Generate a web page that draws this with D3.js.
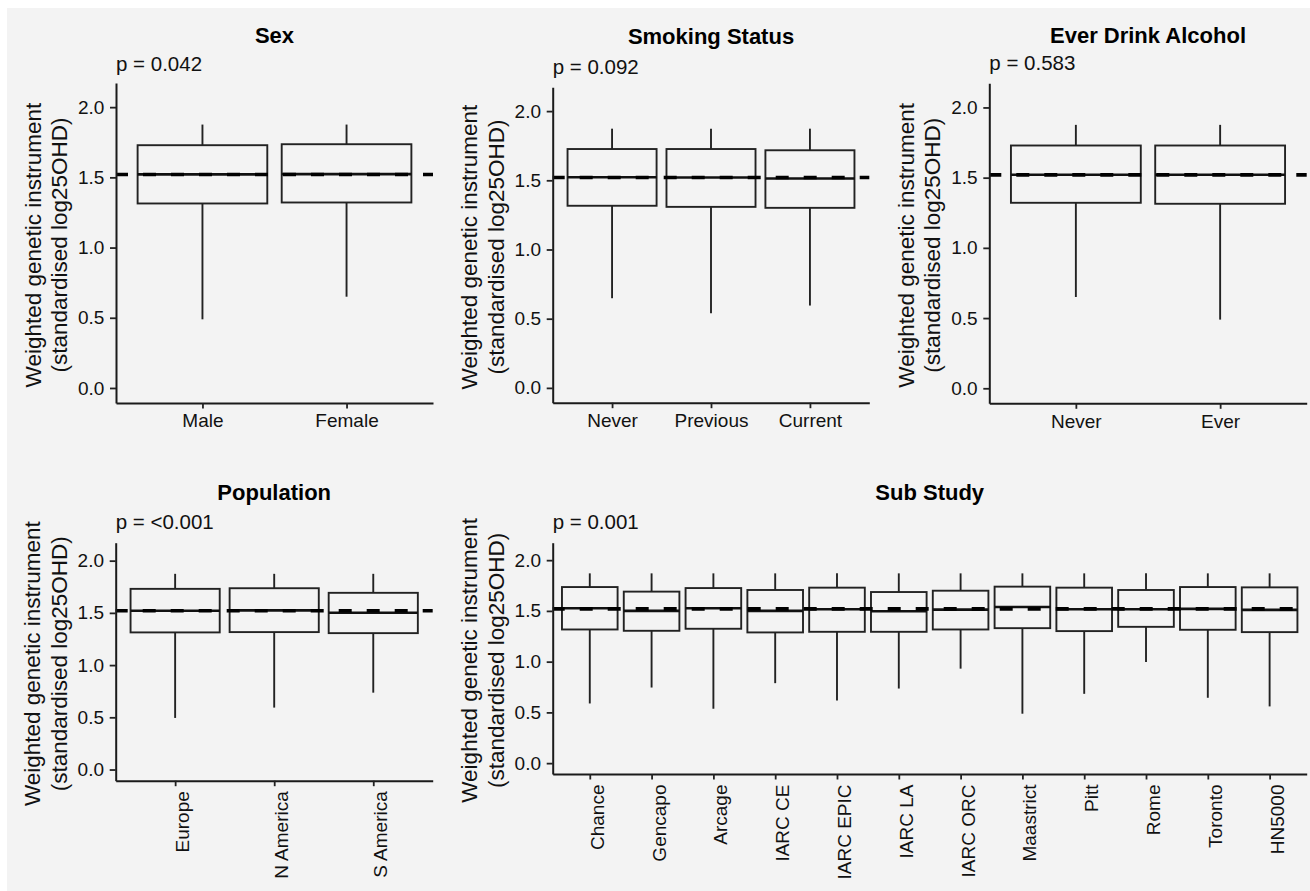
<!DOCTYPE html>
<html>
<head>
<meta charset="utf-8">
<script src="https://cdn.jsdelivr.net/npm/d3@7"></script>
<style>
  html, body { margin: 0; padding: 0; background: #fff; }
  svg { display: block; font-family: "Liberation Sans", Arial, Helvetica, sans-serif; }
</style>
</head>
<body>
<svg id="chart" width="1310" height="891"></svg>
<script>
// box stats per category: [whisker low, q1, median, q3, whisker high]
const sexCategories = ["Male", "Female"];
const sexBoxes = [[0.489, 1.314, 1.521, 1.729, 1.876], [0.65, 1.321, 1.523, 1.736, 1.876]];

const smokingCategories = ["Never", "Previous", "Current"];
const smokingBoxes = [[0.648, 1.316, 1.522, 1.726, 1.873], [0.54, 1.308, 1.52, 1.726, 1.873], [0.595, 1.301, 1.513, 1.717, 1.873]];

const alcoholCategories = ["Never", "Ever"];
const alcoholBoxes = [[0.65, 1.321, 1.521, 1.729, 1.876], [0.489, 1.314, 1.521, 1.729, 1.876]];

const populationCategories = ["Europe", "N America", "S America"];
const populationBoxes = [[0.494, 1.313, 1.52, 1.73, 1.874], [0.593, 1.316, 1.524, 1.736, 1.874], [0.736, 1.306, 1.501, 1.692, 1.874]];

const subStudyCategories = ["Chance", "Gencapo", "Arcage", "IARC CE", "IARC EPIC", "IARC LA", "IARC ORC", "Maastrict", "Pitt", "Rome", "Toronto", "HN5000"];
const subStudyBoxes = [
  [0.588, 1.317, 1.526, 1.735, 1.87],
  [0.745, 1.304, 1.50, 1.69, 1.87],
  [0.536, 1.324, 1.526, 1.725, 1.87],
  [0.788, 1.288, 1.50, 1.706, 1.87],
  [0.618, 1.294, 1.516, 1.729, 1.87],
  [0.735, 1.294, 1.497, 1.686, 1.87],
  [0.931, 1.317, 1.513, 1.699, 1.87],
  [0.487, 1.33, 1.539, 1.739, 1.87],
  [0.683, 1.301, 1.516, 1.729, 1.87],
  [0.997, 1.343, 1.516, 1.706, 1.87],
  [0.644, 1.314, 1.52, 1.735, 1.87],
  [0.559, 1.291, 1.51, 1.732, 1.87]
];

const panelTitles = ["Sex", "Smoking Status", "Ever Drink Alcohol", "Population", "Sub Study"];
const pLabels = ["p = 0.042", "p = 0.092", "p = 0.583", "p = <0.001", "p = 0.001"];
const overallMedian = 1.52;
const yTicks = [0, 0.5, 1.0, 1.5, 2.0];
const yDomain = [-0.107, 2.172];

const panels = [
  { cats: sexCategories, boxes: sexBoxes, x0: 116, x1: 433, y0: 83, y1: 403, titleY: 43.3, pY: 70.7 },
  { cats: smokingCategories, boxes: smokingBoxes, x0: 552.7, x1: 869.3, y0: 87.3, y1: 402.7, titleY: 44.3, pY: 74 },
  { cats: alcoholCategories, boxes: alcoholBoxes, x0: 989.3, x1: 1306.7, y0: 83.3, y1: 403.3, titleY: 43, pY: 70 },
  { cats: populationCategories, boxes: populationBoxes, x0: 115.7, x1: 432.7, y0: 542.7, y1: 780.7, titleY: 500, pY: 529.3, rotate: true },
  { cats: subStudyCategories, boxes: subStudyBoxes, x0: 552.7, x1: 1306.7, y0: 542.7, y1: 774, titleY: 500, pY: 529.3, rotate: true }
];

const ink = "#111";
const svg = d3.select("#chart");

// grey page with thin white strip top/left
svg.append("rect").attr("x", 7).attr("y", 8).attr("width", 1303).attr("height", 883).attr("fill", "#f3f3f3");

panels.forEach((p, i) => {
  const g = svg.append("g");
  const x = d3.scalePoint().domain(p.cats).range([p.x0, p.x1]).padding(0.6);
  const y = d3.scaleLinear().domain(yDomain).range([p.y1, p.y0]);
  const bw = x.step() * 0.9;

  // boxes
  const box = g.append("g").selectAll("g").data(p.boxes).join("g");
  box.append("line")
    .attr("x1", (d, j) => x(p.cats[j])).attr("x2", (d, j) => x(p.cats[j]))
    .attr("y1", d => y(d[4])).attr("y2", d => y(d[3]))
    .attr("stroke", "#222").attr("stroke-width", 1.9);
  box.append("line")
    .attr("x1", (d, j) => x(p.cats[j])).attr("x2", (d, j) => x(p.cats[j]))
    .attr("y1", d => y(d[1])).attr("y2", d => y(d[0]))
    .attr("stroke", "#222").attr("stroke-width", 1.9);
  box.append("rect")
    .attr("x", (d, j) => x(p.cats[j]) - bw / 2)
    .attr("width", bw)
    .attr("y", d => y(d[3]))
    .attr("height", d => y(d[1]) - y(d[3]))
    .attr("fill", "none").attr("stroke", "#222").attr("stroke-width", 1.9);
  box.append("line")
    .attr("x1", (d, j) => x(p.cats[j]) - bw / 2).attr("x2", (d, j) => x(p.cats[j]) + bw / 2)
    .attr("y1", d => y(d[2])).attr("y2", d => y(d[2]))
    .attr("stroke", "#111").attr("stroke-width", 2.6);

  // overall reference line
  g.append("line")
    .attr("x1", p.x0).attr("x2", p.x1)
    .attr("y1", y(overallMedian)).attr("y2", y(overallMedian))
    .attr("stroke", "#000").attr("stroke-width", 3.6)
    .attr("stroke-dasharray", "13,15").attr("stroke-dashoffset", 1);

  // y axis
  const ya = g.append("g").attr("transform", `translate(${p.x0},0)`)
    .call(d3.axisLeft(y).tickValues(yTicks).tickFormat(d3.format(".1f")).tickSize(6).tickSizeOuter(0).tickPadding(5.7));
  // x axis
  const xa = g.append("g").attr("transform", `translate(0,${p.y1})`)
    .call(d3.axisBottom(x).tickSize(5.5).tickSizeOuter(0).tickPadding(5.5));

  [ya, xa].forEach(a => {
    a.select(".domain").attr("stroke", "#1a1a1a").attr("stroke-width", 2);
    a.selectAll(".tick line").attr("stroke", "#222").attr("stroke-width", 1.8);
    a.selectAll(".tick text").attr("fill", ink).style("font-size", "19px");
  });

  if (p.rotate) {
    xa.selectAll(".tick text")
      .attr("transform", "rotate(-90)")
      .attr("text-anchor", "end")
      .attr("x", -10.5).attr("y", 0).attr("dy", "0.71em");
  }

  // y axis title
  const cy = (p.y0 + p.y1) / 2;
  [["Weighted genetic instrument", 75.5], ["(standardised log25OHD)", 49]].forEach(([t, off]) => {
    g.append("text")
      .attr("transform", `translate(${p.x0 - off},${cy + 2}) rotate(-90)`)
      .attr("text-anchor", "middle")
      .attr("fill", ink).style("font-size", "22.5px")
      .text(t);
  });

  // title and p label
  g.append("text")
    .attr("x", (p.x0 + p.x1) / 2).attr("y", p.titleY)
    .attr("text-anchor", "middle").attr("fill", "#000")
    .style("font-size", "22px").style("font-weight", "bold")
    .text(panelTitles[i]);
  g.append("text")
    .attr("x", p.x0).attr("y", p.pY)
    .attr("fill", ink).style("font-size", "20.5px")
    .text(pLabels[i]);
});
</script>
</body>
</html>
